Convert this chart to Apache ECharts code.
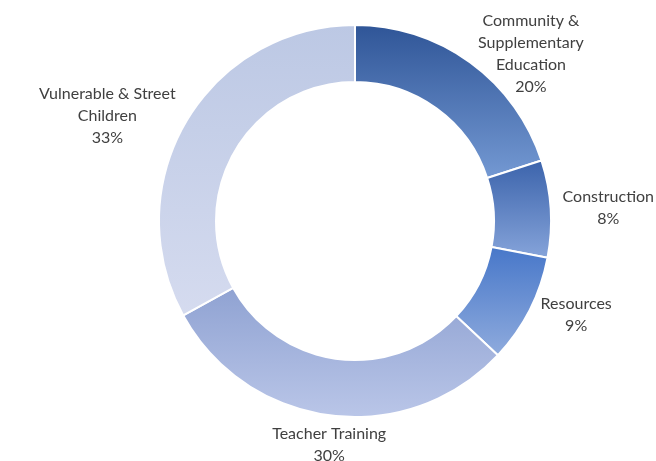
<!DOCTYPE html>
<html>
<head>
<meta charset="utf-8">
<script src="https://cdn.jsdelivr.net/npm/echarts@6/dist/echarts.min.js"></script>
<style>
  html, body { margin: 0; padding: 0; background: #fff; }
  #chart { width: 656px; height: 461px; }
</style>
</head>
<body>
<div id="chart"></div>
<script>
    // slices, clockwise from 12 o'clock
    var categories = ['Community &\nSupplementary\nEducation', 'Construction', 'Resources', 'Teacher Training', 'Vulnerable & Street\nChildren'];
    var shares = [20, 8, 9, 30, 33];
    // top / bottom colour of each slice gradient
    var topColors = ['#2F5597', '#3B63AB', '#4777C9', '#8FA2D2', '#BCC8E4'];
    var bottomColors = ['#7499D3', '#86A4DA', '#8FABDD', '#BAC6E8', '#D5DBEF'];

    var seriesData = [];
    for (var i = 0; i < categories.length; i++) {
        seriesData.push({
            name: categories[i],
            value: shares[i],
            itemStyle: {
                color: new echarts.graphic.LinearGradient(0, 0, 0, 1, [
                    {offset: 0, color: topColors[i]},
                    {offset: 1, color: bottomColors[i]}
                ])
            }
        });
    }

    // excel style "best fit": box touches the point just outside the ring
    function placeLabel(params){
        var pts = params.labelLinePoints;
        if (!pts) return {};
        var dx = pts[1][0] - pts[0][0], dy = pts[1][1] - pts[0][1];
        var len = Math.sqrt(dx * dx + dy * dy) || 1;
        dx = dx / len; dy = dy / len;
        var w = params.labelRect.width, h = params.labelRect.height;
        var x, y;
        if (Math.abs(dx) < 0.35) {
            x = pts[1][0];
            y = pts[1][1] + (dy < 0 ? -1 : 1) * (h / 2 - 3);
        } else {
            x = pts[1][0] + (dx < 0 ? -1 : 1) * (w / 2 + 2);
            y = pts[1][1];
        }
        return {x: x, y: y, align: 'center', verticalAlign: 'middle'};
    }

    var myChart = echarts.init(document.getElementById('chart'), null, {renderer: 'canvas'});
    myChart.setOption({
        backgroundColor: '#fff',
        animation: false,
        series: [{
            type: 'pie',
            center: [355, 221],
            radius: [139, 196],
            startAngle: 90,
            clockwise: true,
            avoidLabelOverlap: false,
            data: seriesData,
            itemStyle: {borderColor: '#fff', borderWidth: 2},
            label: {
                show: true,
                position: 'outside',
                formatter: '{b}\n{c}%',
                fontFamily: 'Lato',
                fontSize: 16,
                lineHeight: 22,
                color: '#404040',
                align: 'center',
                distanceToLabelLine: 0
            },
            labelLine: {
                show: true,
                length: 10,
                length2: 0,
                lineStyle: {opacity: 0, width: 0}
            },
            labelLayout: placeLabel,
            emphasis: {disabled: true}
        }]
    });
</script>
</body>
</html>
